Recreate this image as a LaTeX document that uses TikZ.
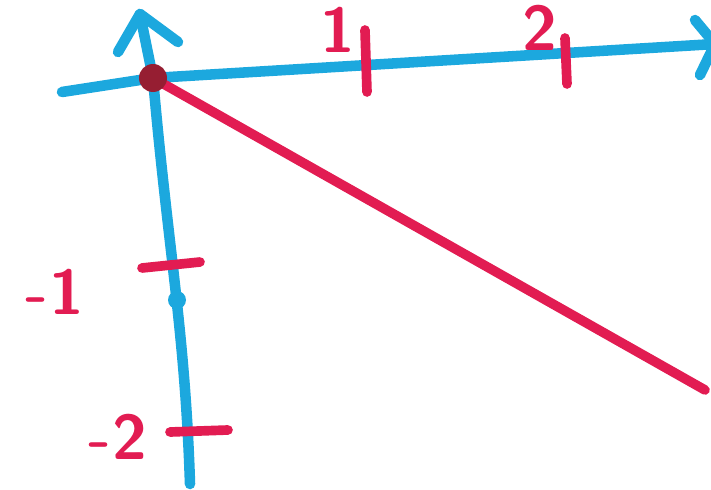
\documentclass[tikz,border=0pt]{standalone}
\usepackage{xcolor}
\usetikzlibrary{positioning}
\definecolor{axiscyan}{RGB}{28,168,222}
\definecolor{penred}{RGB}{226,28,82}
\definecolor{dotred}{RGB}{150,30,50}

\begin{document}
\begin{tikzpicture}[
  x=0.02cm, y=-0.02cm,
  axis/.style={draw=axiscyan, line width=6pt, line cap=round, line join=round},
  tick/.style={draw=penred, line width=5.5pt, line cap=round},
  graph/.style={draw=penred, line width=5.5pt, line cap=round},
  lbl/.style={text=penred, font=\sffamily\bfseries\fontsize{36}{36}\selectfont, inner sep=0pt}
]
\useasboundingbox (0,0) rectangle (711,490);
\clip (0,0) rectangle (711,490);

% axes
\coordinate (origin) at (153,78);
\coordinate (xstart) at (62,92);
\coordinate (xend) at (715,44);
\coordinate (ytop) at (140,14);
\coordinate (ybot) at (190,484);
\path[axis] (xstart) -- (origin) -- (xend);
\path[axis] (origin) -- (ytop);
\path[axis] (origin) .. controls (168,250) and (185,330) .. (ybot);
\path[axis] (118,52) -- (ytop) -- (178,42);
\path[axis] (695,20) -- (xend) -- (700,75);
\fill[axiscyan] (177,300) circle (9);

% ticks
\coordinate (t1a) at (365,30); \coordinate (t1b) at (367,92);
\coordinate (t2a) at (565,38); \coordinate (t2b) at (567,84);
\coordinate (tm1a) at (142,268); \coordinate (tm1b) at (200,262);
\coordinate (tm2a) at (170,432); \coordinate (tm2b) at (228,430);
\path[tick] (t1a) -- (t1b);
\path[tick] (t2a) -- (t2b);
\path[tick] (tm1a) -- (tm1b);
\path[tick] (tm2a) -- (tm2b);

% labels
\node[lbl] (lone) at (338,30) {1};
\node[lbl] (ltwo) at (540,28) {2};
\node[lbl] (lmone) at (55,292) {-1};
\node[lbl] (lmtwo) at (118,437) {-2};

% line through the origin
\coordinate (lineend) at (705,390);
\path[graph] (origin) -- (lineend);
\fill[dotred] (origin) circle (14);
\end{tikzpicture}
\end{document}
